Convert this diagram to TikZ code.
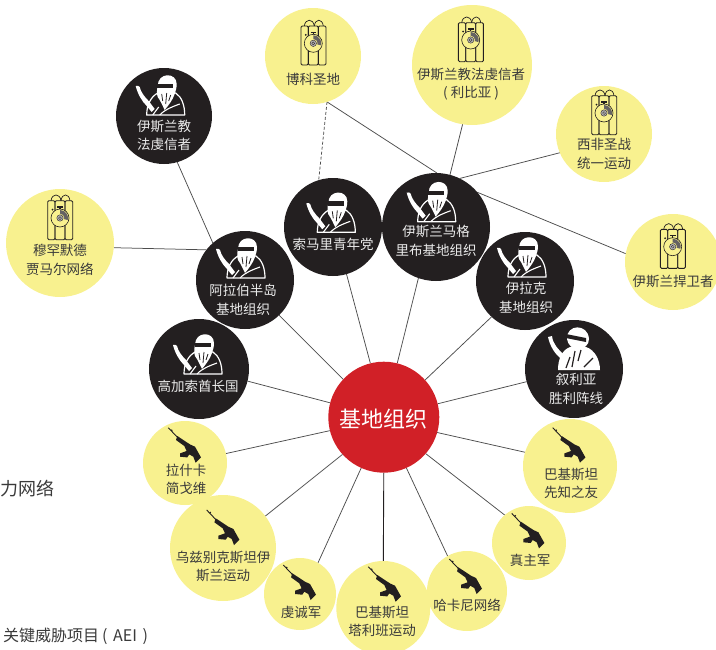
\documentclass[tikz,border=0pt]{standalone}
\usepackage{fontspec}
\setmainfont{Noto Sans CJK SC}
\usetikzlibrary{backgrounds}
\definecolor{ink}{HTML}{231F20}
\definecolor{pale}{HTML}{F8F18F}
\definecolor{hubred}{HTML}{D12027}
\definecolor{note}{HTML}{3A3A3A}
\definecolor{wire}{HTML}{4D4D4D}
\tikzset{
  hub/.style={circle,inner sep=0pt,outer sep=0pt,minimum size=#1*2pt,draw=none},
  yel/.style={hub=#1,fill=pale},
  blk/.style={hub=#1,fill=ink},
  dark/.style={font=\fontsize{13.5}{18.5}\selectfont,text=note,align=center,inner sep=0pt},
  lite/.style={font=\fontsize{13.5}{18.5}\selectfont,text=white!92!black,align=center,inner sep=0pt},
  link/.style={draw=wire,line width=0.75pt},
  linkdash/.style={link,dash pattern=on 3pt off 2pt},
  side/.style={text=note,anchor=west,inner sep=0pt},
  pics/fighter/.style={code={
    \fill[white] (-32,0) .. controls (-30,-0.5) and (-29,-0.5) .. (-28,1) .. controls (-27,6) and (-23,11) .. (-19,15) -- (-13,23) -- (-16,26) -- (-21,20) .. controls (-26,15) and (-30,8) .. cycle;
    \draw[white,line width=1.2pt,line join=round] (-21,29) .. controls (-21,19) and (-17,11) .. (-10,7) -- (8,7) .. controls (14,11) and (17,19) .. (17,29) -- cycle;
    \fill[white] (-10,0) .. controls (-10,-14) and (9,-14) .. (9,-2) .. controls (9,2) and (8,5) .. (7,8) .. controls (5,14) and (1,19) .. (-3,24) .. controls (-5,20) and (-7,15) .. (-10,11) .. controls (-11,8) and (-11,4) .. cycle;
    \fill[ink] (-10.5,-2) -- (5.7,-2) -- (5.7,2.4) -- (-10.5,2.4) -- cycle;
    \draw[ink,line width=0.8pt] (-6,8) -- (-5,15) (-1,7) -- (-2,18) (3,9) -- (1,15);
    \draw[white,line width=1.1pt] (-15,29) -- (-9,21) (-8,29) .. controls (-2,23) and (4,21) .. (12,18);
  }},
  pics/allyfighter/.style={code={
    \fill[white] (-30,0) -- (-26,-1) .. controls (-25,7) and (-21,11) .. (-12,20) -- (-15,23) .. controls (-23,18) and (-28,9) .. cycle;
    \fill[white] (-20,33) .. controls (-20,22) and (-16,13) .. (-8,10) -- (8,10) .. controls (17,13) and (22,23) .. (22,33) -- cycle;
    \fill[white] (-11,2) .. controls (-12,-13) and (10,-14) .. (11,2) .. controls (11,8) and (6,12) .. (0,12) .. controls (-6,12) and (-10,8) .. cycle;
    \fill[ink] (-12,-3) -- (8,1) -- (8,5) -- (-12,1) -- cycle;
    \draw[ink,line width=1.2pt] (-3,14) -- (-6,30) (3,13) -- (0,24) (-12,31) -- (-8,20) (6,30) -- (15,21);
  }},
  pics/bomb/.style={code={
    \draw[ink,line width=0.9pt,rounded corners=1.2pt] (-12.3,-17.3) rectangle (-5,21.7);
    \draw[ink,line width=0.9pt,rounded corners=1.2pt] (-5,-17.3) rectangle (5,21.7);
    \draw[ink,line width=0.9pt,rounded corners=1.2pt] (5,-17.3) rectangle (12.7,21.7);
    \draw[ink,line width=0.7pt] (-9,-17.3) .. controls (-8,-25) and (0,-25) .. (1,-17.3);
    \draw[ink,line width=0.7pt] (1,-17.3) .. controls (2,-25) and (9,-25) .. (10,-17.3);
    \fill[pale] (0,0) circle (9);
    \fill[ink!70] (0,0) -- (0,-8) arc[start angle=-90,end angle=15,radius=8] -- cycle;
    \fill[pale] (0,0) circle (4.2);
    \fill[ink!35] (0,0) circle (3.2);
    \draw[ink,line width=0.6pt] (0,0) circle (9);
    \draw[ink,line width=0.35pt] (0,0) circle (3.2) (0,0) circle (1.5);
    \draw[ink,line width=1.1pt] (0,-9) -- (0,-11) (-2.8,-11) -- (2.8,-11);
    \fill[ink] (-7.5,-8.5) circle (1);
  }},
  pics/gun/.style={code={
    \draw[ink,line width=0.9pt] (-16,-17) -- (-6,-6.5);
    \fill[ink] (-12.5,-14.5) circle (0.9);
    \fill[ink] (-7,-8.7) -- (5.7,-0.3) -- (10.7,2) -- (16.7,12.7) -- (11.3,18) -- (9,12) -- (5,9.7) -- (3,12.7) -- (-4.3,12) -- (-4.3,8.7) -- (2.3,6.3) -- (0,1.3) -- (-8.3,-4.7) -- cycle;
  }}
}
\begin{document}
\begin{tikzpicture}[x=1pt,y=-1pt]
\useasboundingbox (0,0) rectangle (716,649);
\clip (0,0) rectangle (716,649);
% outer yellow
\node[yel=48] (bk) at (313,56) {};
\node[yel=60] (lb) at (472,65) {};
\node[yel=48] (xf) at (604,134) {};
\node[yel=48] (hw) at (673,262) {};
\node[yel=54] (mh) at (60,243) {};
% black
\node[blk=48] (jf) at (164,116) {};
\node[blk=49] (sm) at (333,227) {};
\node[blk=54] (mg) at (436,227) {};
\node[blk=49] (al) at (245,280) {};
\node[blk=49] (ik) at (525,281) {};
\node[blk=50] (gj) at (199,369) {};
\node[blk=49] (sy) at (574,369) {};
% lower yellow
\node[yel=42] (ls) at (185,463) {};
\node[yel=47] (xz) at (570,466) {};
\node[yel=53] (wz) at (223,548) {};
\node[yel=37] (zz) at (529,543) {};
\node[yel=36] (qc) at (300,594) {};
\node[yel=47] (tl) at (383.3,608) {};
\node[yel=40] (hk) at (467,591) {};
% centre
\node[hub=55.5,fill=hubred] (jd) at (383.8,417.2) {};
\node[text=white,font=\fontsize{22}{24}\selectfont,inner sep=0pt] (tjd) at (383.5,419.5) {基地组织};
% connectors
\begin{pgfonlayer}{background}
\draw[link] (jd.104.4) -- (sm.-74.2);
\draw[link] (jd.76.7) -- (mg.-109.6);
\draw[link] (jd.137.9) -- (al.-46.4);
\draw[link] (jd.42.1) -- (ik.-133.6);
\draw[link] (jd.165.5) -- (gj.-14.2);
\draw[link] (jd.14.3) -- (sy.-165.8);
\draw[link] (jd.194.4) -- (ls.13.1);
\draw[link] (jd.-16.7) -- (xz.163.4);
\draw[link] (jd.-138.4) -- (wz.37.6);
\draw[link] (jd.-41.3) -- (zz.131.8);
\draw[link] (jd.-114.7) -- (qc.60);
\draw[link,draw=ink,line width=0.9pt] (jd.-90) -- (tl.90);
\draw[link] (jd.-66.8) -- (hk.119.4);
\draw[link] (mg.75.7) -- (lb.-99.7);
\draw[link] (mg.64.7) -- (xf.203.4);
\draw[link] (bk.-73.4) -- (mg.89.3);
\draw[link] (mg.40) -- (hw.170.5);
\draw[linkdash] (bk.-73.4) -- (sm.107.4);
\draw[link] (mh.-5) -- (al.142);
\draw[link] (jf.-74) -- (al.131);
\end{pgfonlayer}
% icons
\pic at (313.3,43.3) {bomb};
\pic at (470.7,40) {bomb};
\pic at (604,113) {bomb};
\pic at (672.7,246.7) {bomb};
\pic at (60,218) {bomb};
\pic at (167.7,86) {fighter};
\pic at (338.3,203.3) {fighter};
\pic at (438.7,192.7) {fighter};
\pic at (248,249) {fighter};
\pic at (529,248) {fighter};
\pic at (205,345) {fighter};
\pic at (578,337) {allyfighter};
\pic at (184.3,444.7) {gun};
\pic at (568.7,444.7) {gun};
\pic at (222.7,527) {gun};
\pic at (527.7,530.3) {gun};
\pic at (299.3,582) {gun};
\pic at (384.3,583.7) {gun};
\pic at (465.3,576) {gun};
% labels
\node[dark] (tbk) at (313,79) {博科圣地};
\node[dark] (tlb) at (471,84) {伊斯兰教法虔信者\\( 利比亚 )};
\node[dark] (txf) at (604,154) {西非圣战\\统一运动};
\node[dark] (thw) at (673,281) {伊斯兰捍卫者};
\node[dark] (tmh) at (60,260) {穆罕默德\\贾马尔网络};
\node[lite] (tjf) at (164,135.5) {伊斯兰教\\法虔信者};
\node[lite] (tsm) at (333,244) {索马里青年党};
\node[lite] (tmg) at (436,241) {伊斯兰马格\\里布基地组织};
\node[lite] (tal) at (243,300) {阿拉伯半岛\\基地组织};
\node[lite] (tik) at (526,298) {伊拉克\\基地组织};
\node[lite] (tgj) at (198,386) {高加索酋长国};
\node[lite] (tsy) at (576,389) {叙利亚\\胜利阵线};
\node[dark] (tls) at (186,479.5) {拉什卡\\简戈维};
\node[dark] (txz) at (571,483.5) {巴基斯坦\\先知之友};
\node[dark] (twz) at (223,566.5) {乌兹别克斯坦伊\\斯兰运动};
\node[dark] (tzz) at (530,560) {真主军};
\node[dark] (tqc) at (301,612) {虔诚军};
\node[dark] (ttl) at (382,621.5) {巴基斯坦\\塔利班运动};
\node[dark] (thk) at (467,605) {哈卡尼网络};
\node[side,font=\fontsize{18}{20}\selectfont] (s1) at (0,489) {力网络};
\node[side,font=\fontsize{16}{18}\selectfont] (s2) at (3,636.5) {关键威胁项目\hspace{3pt}(\hspace{2pt} AEI \hspace{2pt})};
\end{tikzpicture}
\end{document}
